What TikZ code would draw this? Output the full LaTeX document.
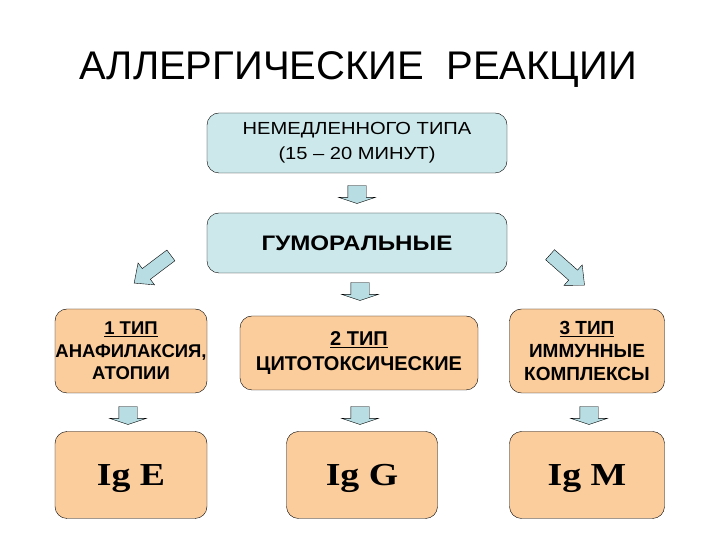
\documentclass[tikz,border=0pt]{standalone}
\usepackage{fontspec}
\setmainfont{Liberation Sans}
\newfontfamily\widefont[FakeStretch=1.15]{Liberation Sans}
\newfontfamily\igfont[FakeStretch=1.18]{Liberation Serif}
\usetikzlibrary{shapes.arrows}
\definecolor{boxblue}{RGB}{205,232,235}
\definecolor{arrblue}{RGB}{184,222,228}
\definecolor{peach}{RGB}{251,204,156}

\begin{document}
\begin{tikzpicture}[x=1pt, y=1pt,
		bluebox/.style={draw, thin, rounded corners=12pt, fill=boxblue, align=center, inner sep=0pt, minimum width=300pt, minimum height=60pt},
		typebox/.style={draw, thin, rounded corners=12pt, fill=peach, align=center, inner sep=0pt, minimum height=84pt},
		igbox/.style={draw, thin, rounded corners=12pt, fill=peach, inner sep=0pt, text depth=0pt, minimum height=87pt, font=\igfont\bfseries\fontsize{32}{36}\selectfont},
		downarr/.style={single arrow, draw, thin, fill=arrblue, rotate=-90, inner xsep=0pt, inner ysep=9pt, minimum height=18pt, single arrow head extend=9pt, single arrow tip angle=143},
		sidearr/.style={single arrow, draw, thin, fill=arrblue, inner xsep=0pt, inner ysep=6.5pt, minimum height=46pt, single arrow head extend=7pt, single arrow tip angle=84}]
	\useasboundingbox (0,0) rectangle (720,540);

	\node (title) at (358,470) {\fontsize{40}{44}\selectfont АЛЛЕРГИЧЕСКИЕ\ \ РЕАКЦИИ};

	\node[bluebox, font=\widefont\fontsize{17.5}{25}\selectfont] (fast) at (357,397) {НЕМЕДЛЕННОГО ТИПА\\(15 – 20 МИНУТ)};
	\node[bluebox, font=\widefont\bfseries\fontsize{21}{24}\selectfont] (humoral) at (357,297) {ГУМОРАЛЬНЫЕ};

	% types
	\node[typebox, minimum width=152pt, font=\bfseries\fontsize{18.5}{22.5}\selectfont] (type1) at (131,189) {\underline{1 ТИП}\\АНАФИЛАКСИЯ,\\АТОПИИ};
	\node[typebox, minimum width=238pt, minimum height=74pt, font=\bfseries\fontsize{20}{25}\selectfont] (type2) at (359,187) {\underline{2 ТИП}\\ЦИТОТОКСИЧЕСКИЕ};
	\node[typebox, minimum width=155pt, font=\bfseries\fontsize{19}{23}\selectfont] (type3) at (587,189) {\underline{3 ТИП}\\ИММУННЫЕ\\КОМПЛЕКСЫ};

	\node[igbox, minimum width=152pt] (ige) at (131,65) {Ig E};
	\node[igbox, minimum width=151pt] (igg) at (362,65) {Ig G};
	\node[igbox, minimum width=155pt] (igm) at (587,65) {Ig M};

	% arrows
	\node[downarr] (a0) at (357,347) {};
	\node[downarr] (a2) at (360,250) {};
	\node[sidearr, rotate=217] (a1) at (155.5,273) {};
	\node[sidearr, rotate=-41.5] (a3) at (564.5,272.5) {};
	\node[downarr] (b1) at (128,126) {};
	\node[downarr] (b2) at (360,126) {};
	\node[downarr] (b3) at (589,126) {};
\end{tikzpicture}
\end{document}
